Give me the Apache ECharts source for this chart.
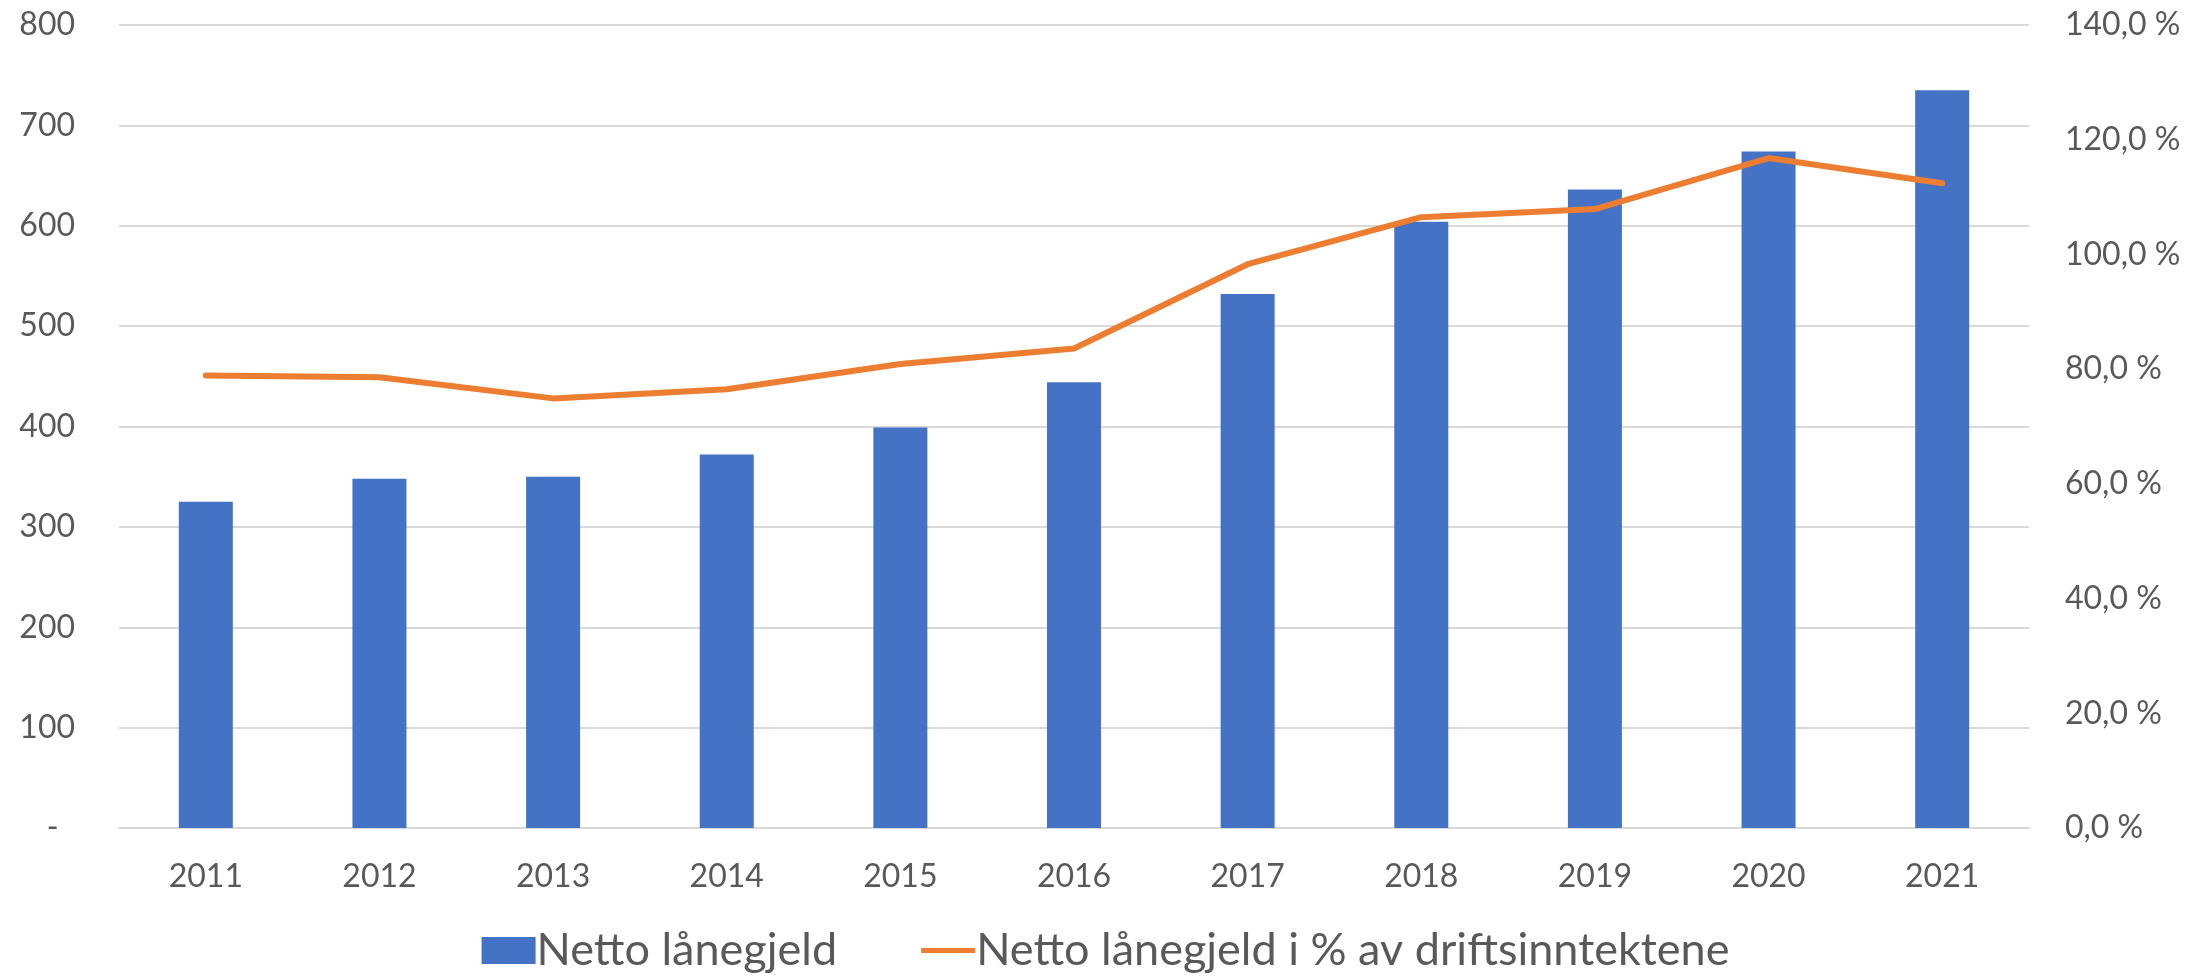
<!DOCTYPE html>
<html>
<head>
<meta charset="utf-8">
<script src="https://cdn.jsdelivr.net/npm/echarts@6/dist/echarts.min.js"></script>
<style>
html,body{margin:0;padding:0;background:#fff;}
#chart{width:2211px;height:976px;}
</style>
</head>
<body>
<div id="chart"></div>
<script>
const years = ['2011','2012','2013','2014','2015','2016','2017','2018','2019','2020','2021'];
const nettoLanegjeld = [325, 348, 350, 372, 399, 444, 532, 604, 636, 674, 735];
const prosentAvDriftsinntekter = [78.9, 78.6, 74.9, 76.5, 80.9, 83.6, 98.3, 106.5, 107.9, 116.8, 112.4];
const seriesNames = ['Netto lånegjeld', 'Netto lånegjeld i % av driftsinntektene'];

const FONT = 'Lato';
const TXT = '#595959';
const chart = echarts.init(document.getElementById('chart'));
chart.setOption({
  animation: false,
  backgroundColor: '#ffffff',
  textStyle: { fontFamily: FONT },
  grid: { left: 119, right: 182, top: 25, bottom: 148 },
  legend: {
    bottom: -2,
    left: 'center',
    itemGap: 84,
    itemWidth: 54,
    itemHeight: 27,
    textStyle: { fontFamily: FONT, fontSize: 45, color: TXT, padding: [0, 0, 0, -4] },
    data: [
      { name: seriesNames[0], icon: 'rect', itemStyle: { color: '#4472c4' } },
      { name: seriesNames[1], icon: 'path://M0,0 L0.01,0 L0.01,0.01 L0,0.01 Z M0,11 L54,11 L54,16 L0,16 Z M0,27 L0.01,27 L0.01,26.99 L0,26.99 Z', itemStyle: { color: '#ed7d31' } }
    ]
  },
  xAxis: {
    type: 'category',
    data: years,
    axisLine: { lineStyle: { color: '#d9d9d9', width: 2 } },
    axisTick: { show: false },
    axisLabel: { color: TXT, fontFamily: FONT, fontSize: 32, margin: 33 }
  },
  yAxis: [
    {
      type: 'value', min: 0, max: 800, interval: 100,
      axisLine: { show: false }, axisTick: { show: false },
      splitLine: { lineStyle: { color: '#d9d9d9', width: 2 } },
      axisLabel: {
        color: TXT, fontFamily: FONT, fontSize: 32, margin: 44,
        formatter: v => v === 0 ? '-  ' : String(v)
      }
    },
    {
      type: 'value', min: 0, max: 140, interval: 20,
      axisLine: { show: false }, axisTick: { show: false },
      splitLine: { show: false },
      axisLabel: {
        color: TXT, fontFamily: FONT, fontSize: 32, margin: 36,
        formatter: v => v.toFixed(1).replace('.', ',') + ' %'
      }
    }
  ],
  series: [
    {
      name: seriesNames[0],
      type: 'bar',
      data: nettoLanegjeld,
      barWidth: 54,
      itemStyle: { color: '#4472c4' }
    },
    {
      name: seriesNames[1],
      type: 'line',
      yAxisIndex: 1,
      data: prosentAvDriftsinntekter,
      symbol: 'none',
      lineStyle: { color: '#ed7d31', width: 6, cap: 'round', join: 'round' },
      itemStyle: { color: '#ed7d31' }
    }
  ]
});
</script>
</body>
</html>
